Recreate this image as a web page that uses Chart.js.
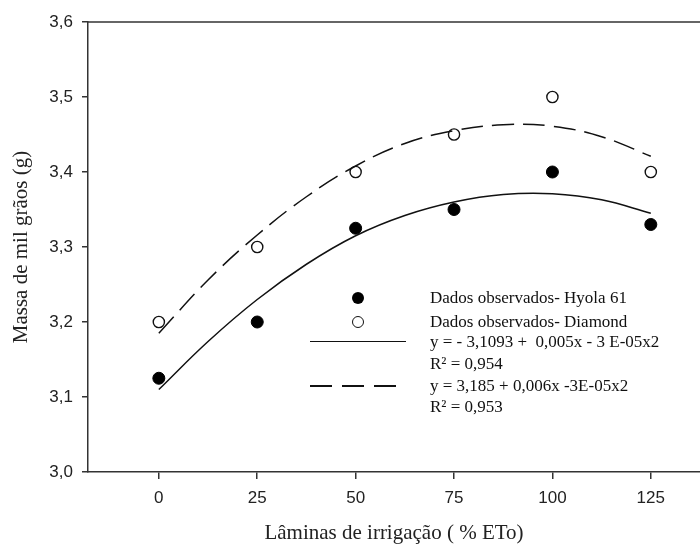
<!DOCTYPE html>
<html>
<head>
<meta charset="utf-8">
<style>
	html, body { margin: 0; padding: 0; background: #fff; overflow: hidden; }
	#wrap { position: relative; width: 700px; height: 546px; overflow: hidden; }
	#graf { position: absolute; left: 0; top: 0; }
	.leg { position: absolute; font-family: "Liberation Serif", "Times New Roman", serif; font-size: 17px; color: #111; line-height: 20px; white-space: nowrap; }
	.dot { position: absolute; width: 12px; height: 12px; border-radius: 50%; box-sizing: border-box; }
	.dot.filled { background: #000; }
	.dot.open { background: #fff; border: 1.4px solid #111; }
	.ln { position: absolute; height: 0; border-top: 1.5px solid #111; }
	.ln.dash { border-top: none; height: 1.5px; background: repeating-linear-gradient(90deg, #111 0 22px, transparent 22px 32px); }
</style>
</head>
<body>
<div id="wrap">
	<canvas id="graf" width="707" height="546"></canvas>

	<span class="dot filled" style="left:352px;top:292px"></span>
	<span class="dot open" style="left:352px;top:316px"></span>
	<span class="ln" style="left:310px;top:341px;width:96px"></span>
	<span class="ln dash" style="left:310px;top:385px;width:86px"></span>

	<div class="leg" style="left:430px;top:288px">Dados observados- Hyola 61</div>
	<div class="leg" style="left:430px;top:312px">Dados observados- Diamond</div>
	<div class="leg" style="left:430px;top:332px">y = - 3,1093 +&nbsp; 0,005x - 3 E-05x2</div>
	<div class="leg" style="left:430px;top:354px">R² = 0,954</div>
	<div class="leg" style="left:430px;top:376px">y = 3,185 + 0,006x -3E-05x2</div>
	<div class="leg" style="left:430px;top:397px">R² = 0,953</div>
</div>

<script src="https://cdn.jsdelivr.net/npm/chart.js"></script>
<script>
	// observed data
	const laminas = [0, 25, 50, 75, 100, 125];
	const hyola = [3.125, 3.2, 3.325, 3.35, 3.4, 3.33];
	const diamond = [3.2, 3.3, 3.4, 3.45, 3.5, 3.4];

	// fitted curves
	const fitX = [0, 12.5, 25, 37.5, 50, 62.5, 75, 87.5, 100, 112.5, 125];
	const fitHyola = [3.11, 3.174, 3.23, 3.277, 3.315, 3.342, 3.36, 3.37, 3.371, 3.363, 3.345];
	const fitDiamond = [3.185, 3.256, 3.316, 3.367, 3.408, 3.438, 3.455, 3.463, 3.461, 3.447, 3.421];

	const xTicks = [0, 25, 50, 75, 100, 125];
	const yTicks = [3.0, 3.1, 3.2, 3.3, 3.4, 3.5, 3.6];

	const pts = (xs, ys) => xs.map((x, i) => ({ x: x, y: ys[i] }));

	const topLine = {
		id: "topLine",
		afterDraw(chart) {
			const a = chart.chartArea;
			const ctx = chart.ctx;
			ctx.save();
			ctx.strokeStyle = "#333";
			ctx.lineWidth = 1.5;
			ctx.beginPath();
			ctx.moveTo(a.left, a.top);
			ctx.lineTo(chart.width, a.top);
			ctx.stroke();
			ctx.restore();
		},
	};

	const sans = "'Liberation Sans', Arial, sans-serif";
	const titleFont = { family: "'Liberation Serif', 'Times New Roman', serif", size: 21 };

	new Chart(document.getElementById("graf"), {
		type: "scatter",
		data: {
			datasets: [
				{
					data: pts(fitX, fitHyola),
					showLine: true,
					borderColor: "#111",
					borderWidth: 1.5,
					pointRadius: 0,
					tension: 0.4,
				},
				{
					data: pts(fitX, fitDiamond),
					showLine: true,
					borderColor: "#111",
					borderWidth: 1.5,
					borderDash: [22, 9],
					pointRadius: 0,
					tension: 0.4,
				},
				{
					data: pts(laminas, hyola),
					backgroundColor: "#000",
					borderColor: "#000",
					borderWidth: 1,
					pointRadius: 6,
				},
				{
					data: pts(laminas, diamond),
					backgroundColor: "#fff",
					borderColor: "#111",
					borderWidth: 1.4,
					pointRadius: 5.6,
				},
			],
		},
		options: {
			responsive: false,
			animation: false,
			layout: { padding: { top: 22, right: 0, left: 0, bottom: 0 } },
			plugins: {
				legend: { display: false },
				tooltip: { enabled: false },
			},
			scales: {
				x: {
					type: "linear",
					min: -18,
					max: 137.5,
					afterBuildTicks: (s) => { s.ticks = xTicks.map((v) => ({ value: v })); },
					afterFit: (s) => { s.height = 74; },
					grid: { drawOnChartArea: false, drawTicks: true, tickLength: 7, color: "#333", lineWidth: 1.5 },
					border: { display: true, color: "#333", width: 1.5 },
					ticks: { color: "#222", font: { family: sans, size: 17 }, padding: 9, maxRotation: 0 },
					title: {
						display: true,
						text: "Lâminas de irrigação ( % ETo)",
						color: "#222",
						font: titleFont,
						padding: { top: 0, bottom: 0 },
					},
				},
				y: {
					type: "linear",
					min: 3.0,
					max: 3.6,
					afterBuildTicks: (s) => { s.ticks = yTicks.map((v) => ({ value: v })); },
					afterFit: (s) => { s.width = 88; },
					grid: { drawOnChartArea: false, drawTicks: true, tickLength: 6, color: "#333", lineWidth: 1.5 },
					border: { display: true, color: "#333", width: 1.5 },
					ticks: {
						color: "#222",
						font: { family: sans, size: 17 },
						padding: 9,
						callback: (v) => v.toFixed(1).replace(".", ","),
					},
					title: {
						display: true,
						text: "Massa de mil grãos (g)",
						color: "#222",
						font: titleFont,
						padding: { top: 9, bottom: 0 },
					},
				},
			},
		},
		plugins: [topLine],
	});
</script>
</body>
</html>
